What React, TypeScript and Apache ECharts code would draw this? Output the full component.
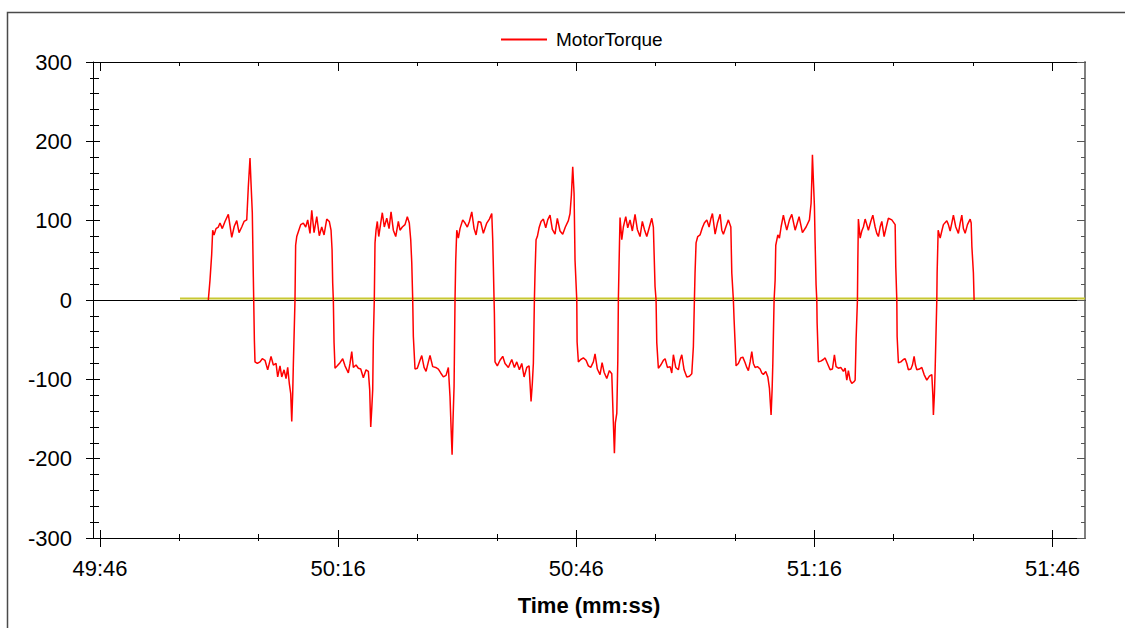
import React, { useEffect, useRef } from "react";
import * as echarts from "echarts";

// Time axis: seconds after 49:46 (2986 s)
const TIME_OFFSET = 2986;
const timeMin = -0.88;
const timeMax = 124.1;
const majorTimeTicks = [0, 30, 60, 90, 120];
const minorTimeTicks = [10, 20, 40, 50, 70, 80, 100, 110];

const torqueMin = -300;
const torqueMax = 300;
const torqueInterval = 100;

// MotorTorque samples [seconds after 49:46, torque]
const cycle01: [number, number][] = [
  [13.65, 0], [13.86, 25], [14.07, 57], [14.2, 88], [14.37, 82], [14.62, 90], [14.91, 92], [15.12, 97],
  [15.41, 90], [15.75, 99], [16.17, 108], [16.6, 79], [16.92, 93], [17.23, 100], [17.52, 85], [17.86, 92],
  [18.15, 99], [18.49, 101], [18.69, 143], [18.9, 179], [19.03, 147], [19.19, 110], [19.32, 29],
  [19.45, -50], [19.53, -78], [19.82, -80], [20.16, -78], [20.45, -74], [20.79, -76], [21.13, -88],
  [21.55, -71], [21.84, -82], [22.18, -80], [22.39, -97], [22.68, -83], [22.9, -97], [23.19, -88],
  [23.44, -99], [23.65, -85], [23.85, -105], [24.03, -118], [24.16, -153], [24.28, -118], [24.36, -82],
  [24.57, 0],
];
const cycle02: [number, number][] = [
  [24.65, 69], [24.79, 80], [24.99, 86], [25.29, 95], [25.62, 97], [25.92, 92], [26.17, 101], [26.46, 84],
  [26.68, 113], [26.97, 85], [27.31, 105], [27.63, 81], [27.94, 92], [28.23, 82], [28.57, 102], [28.89, 99],
  [29.11, 88], [29.24, 63], [29.32, 21], [29.4, 0],
  [29.49, -54], [29.61, -86], [29.9, -83], [30.24, -79], [30.58, -74], [30.87, -83], [31.29, -92],
  [31.5, -80], [31.72, -65], [31.92, -85], [32.26, -82], [32.55, -86], [32.85, -87], [33.18, -98],
  [33.52, -88], [33.81, -90], [33.98, -113], [34.11, -160], [34.24, -137], [34.36, -113], [34.44, -50],
  [34.56, 0],
];
const cycle03: [number, number][] = [
  [34.65, 72], [34.78, 88], [34.94, 99], [35.12, 80], [35.37, 97], [35.57, 110], [35.82, 92], [36.13, 103],
  [36.42, 90], [36.67, 111], [36.96, 88], [37.26, 80], [37.59, 99], [37.8, 88], [38.09, 92], [38.43, 95],
  [38.72, 105], [38.97, 97], [39.15, 76], [39.28, 47], [39.4, 0],
  [39.48, -46], [39.69, -87], [39.98, -86], [40.32, -76], [40.54, -70], [40.83, -85], [41.08, -90],
  [41.37, -78], [41.58, -70], [41.92, -84], [42.3, -85], [42.63, -87], [42.93, -92], [43.26, -97],
  [43.6, -95], [43.89, -85], [44.1, -122], [44.23, -160], [44.36, -195], [44.48, -151], [44.61, -109],
  [44.73, 0],
];
const cycle04: [number, number][] = [
  [44.82, 50], [44.95, 88], [45.15, 78], [45.36, 90], [45.7, 101], [45.99, 97], [46.28, 92], [46.54, 99],
  [46.84, 111], [47.13, 90], [47.38, 82], [47.67, 99], [47.97, 98], [48.3, 84], [48.73, 97], [49.06, 102],
  [49.36, 109], [49.48, 76], [49.56, 42], [49.65, 0],
  [49.69, -17], [49.77, -78], [50.06, -83], [50.4, -76], [50.74, -71], [51.03, -80], [51.45, -85],
  [51.88, -75], [52.21, -85], [52.51, -78], [52.84, -88], [53.14, -80], [53.43, -97], [53.77, -85],
  [54.06, -83], [54.18, -105], [54.31, -128], [54.47, -105], [54.6, -80], [54.73, 0],
];
const cycle05: [number, number][] = [
  [54.81, 34], [54.94, 76], [55.1, 80], [55.32, 91], [55.57, 99], [55.86, 102], [56.16, 91], [56.41, 101],
  [56.7, 107], [56.99, 89], [57.33, 83], [57.62, 103], [57.96, 87], [58.3, 83], [58.63, 92], [59.01, 100],
  [59.22, 109], [59.39, 132], [59.56, 168], [59.73, 134], [59.85, 50], [60.07, 0],
  [60.11, -53], [60.27, -78], [60.57, -75], [60.9, -73], [61.24, -76], [61.53, -83], [61.83, -85],
  [62.16, -78], [62.37, -68], [62.66, -87], [63.0, -94], [63.26, -79], [63.51, -91], [63.85, -99],
  [64.18, -89], [64.48, -93], [64.64, -143], [64.81, -193], [64.93, -155], [65.11, -143], [65.24, -76],
  [65.31, 0],
];
const cycle06: [number, number][] = [
  [65.4, 47], [65.52, 104], [65.74, 76], [65.94, 92], [66.24, 105], [66.49, 91], [66.78, 101], [67.07, 87],
  [67.41, 108], [67.7, 89], [68.04, 80], [68.33, 99], [68.59, 89], [68.89, 80], [69.22, 92], [69.52, 103],
  [69.72, 92], [69.93, 17], [70.06, 0],
  [70.15, -54], [70.35, -86], [70.65, -82], [70.98, -76], [71.2, -74], [71.49, -85], [71.83, -84],
  [72.04, -92], [72.24, -69], [72.54, -85], [72.87, -88], [73.08, -76], [73.3, -69], [73.59, -88],
  [73.93, -97], [74.26, -96], [74.56, -93], [74.76, -59], [74.89, 0],
];
const cycle07: [number, number][] = [
  [74.97, 34], [75.1, 72], [75.31, 80], [75.6, 82], [75.89, 91], [76.14, 97], [76.45, 101], [76.74, 92],
  [76.95, 102], [77.16, 109], [77.5, 83], [77.79, 97], [78.13, 108], [78.34, 88], [78.54, 83], [78.85, 92],
  [79.17, 101], [79.48, 92], [79.6, 34], [79.8, 0],
  [79.89, -25], [80.14, -83], [80.43, -80], [80.73, -73], [80.99, -72], [81.28, -79], [81.49, -85],
  [81.69, -89], [81.91, -78], [82.12, -65], [82.32, -80], [82.54, -85], [82.83, -84], [83.17, -87],
  [83.38, -92], [83.58, -94], [83.88, -90], [84.14, -97], [84.34, -111], [84.55, -145], [84.68, -113],
  [84.77, -80], [84.93, 0],
];
const cycle08: [number, number][] = [
  [85.06, 25], [85.14, 69], [85.4, 82], [85.6, 78], [85.81, 92], [86.1, 107], [86.31, 97], [86.53, 88],
  [86.86, 101], [87.16, 108], [87.58, 88], [88.08, 105], [88.5, 85], [88.96, 92], [89.38, 101], [89.59, 122],
  [89.68, 151], [89.76, 183], [89.88, 151], [90.01, 118], [90.1, 72], [90.22, 19], [90.31, 0],
  [90.35, -29], [90.51, -78], [90.81, -77], [91.14, -75], [91.36, -73], [91.65, -80], [91.99, -88],
  [92.28, -87], [92.53, -69], [92.74, -84], [93.03, -86], [93.33, -85], [93.66, -90], [93.88, -86],
  [94.09, -101], [94.29, -89], [94.51, -101], [94.72, -105], [95.01, -103], [95.14, -101], [95.26, -50],
  [95.43, 0],
];
const cycle09: [number, number][] = [
  [95.48, 50], [95.55, 102], [95.77, 78], [95.98, 87], [96.18, 92], [96.4, 102], [96.61, 95], [96.81, 88],
  [97.11, 99], [97.37, 107], [97.66, 92], [97.87, 84], [98.07, 80], [98.29, 92], [98.5, 99], [98.79, 80],
  [99.04, 91], [99.33, 103], [99.76, 101], [100.18, 95], [100.26, 42], [100.39, 0],
  [100.43, -46], [100.59, -79], [100.9, -78], [101.22, -75], [101.44, -74], [101.65, -80], [101.85, -88],
  [102.16, -87], [102.36, -82], [102.57, -71], [102.74, -82], [102.91, -88], [103.24, -87], [103.54, -85],
  [103.83, -94], [104.17, -101], [104.5, -96], [104.8, -94], [104.93, -120], [105.0, -145], [105.13, -118],
  [105.22, -88], [105.43, 0],
];
const cycle10: [number, number][] = [
  [105.47, 34], [105.6, 88], [105.85, 78], [106.06, 87], [106.26, 95], [106.69, 100], [106.89, 95],
  [107.11, 87], [107.32, 97], [107.52, 107], [107.82, 92], [108.15, 84], [108.37, 97], [108.58, 107],
  [108.78, 90], [109.0, 84], [109.29, 95], [109.63, 102], [109.76, 97], [109.85, 67], [110.04, 34],
  [110.13, 0],
];

// Second (flat) trace, drawn in olive-yellow
const referenceTimes = [10.08, 124.1];
const referenceValues = [1.8, 1.8];

const FONT = "'Liberation Sans', Arial, sans-serif";

function fmtTime(v: number): string {
  const total = Math.round(TIME_OFFSET + v);
  const m = Math.floor(total / 60);
  const s = total % 60;
  return `${m}:${s < 10 ? "0" + s : s}`;
}

export default function App() {
  const ref = useRef<HTMLDivElement>(null);

  useEffect(() => {
    if (!ref.current) return;
    const chart = echarts.init(ref.current, undefined, { renderer: "svg" });

    const torqueData = [
      ...cycle01, ...cycle02, ...cycle03, ...cycle04, ...cycle05,
      ...cycle06, ...cycle07, ...cycle08, ...cycle09, ...cycle10,
    ];
    const referenceData = referenceTimes.map((t, i) => [t, referenceValues[i]]);

    const baseX = {
      type: "value" as const,
      min: timeMin,
      max: timeMax,
      splitLine: { show: false },
      axisLabel: { show: false },
      axisLine: { show: false, onZero: false },
    };
    const baseY = {
      type: "value" as const,
      min: torqueMin,
      max: torqueMax,
      interval: torqueInterval,
      splitLine: { show: false },
      axisLabel: { show: false },
      axisLine: { show: false, onZero: false },
    };

    const option: any = {
      animation: false,
      backgroundColor: "#ffffff",
      textStyle: { fontFamily: FONT },
      graphic: [
        {
          type: "rect",
          shape: { x: 7.5, y: 12.5, width: 1300, height: 800 },
          style: { fill: "none", stroke: "#4a4a4a", lineWidth: 1.5 },
          silent: true,
        },
      ],
      legend: {
        data: ["MotorTorque"],
        left: 496,
        top: 25,
        icon: "rect",
        itemWidth: 46,
        itemHeight: 2,
        textStyle: { fontSize: 19, color: "#000", fontFamily: FONT, padding: [0, 0, 0, 4] },
      },
      grid: { left: 93, right: 40, top: 62, bottom: 90, containLabel: false },
      xAxis: [
        {
          ...baseX,
          position: "bottom",
          axisLine: { show: true, onZero: false, lineStyle: { color: "#000", width: 1 } },
          axisTick: { show: true, customValues: majorTimeTicks, length: 9, lineStyle: { color: "#000" } },
          axisLabel: {
            show: true,
            customValues: majorTimeTicks,
            formatter: (v: number) => fmtTime(v),
            fontSize: 22,
            color: "#000",
            fontFamily: FONT,
            margin: 19,
          },
          name: "Time (mm:ss)",
          nameLocation: "middle",
          nameGap: 56,
          nameTextStyle: { fontSize: 22, fontWeight: "bold", color: "#000", fontFamily: FONT },
        },
        {
          ...baseX,
          position: "bottom",
          axisTick: { show: true, inside: true, customValues: majorTimeTicks, length: 8, lineStyle: { color: "#000" } },
        },
        {
          ...baseX,
          position: "bottom",
          axisTick: { show: true, customValues: minorTimeTicks, length: 3, lineStyle: { color: "#000" } },
        },
        {
          ...baseX,
          position: "bottom",
          axisTick: { show: true, inside: true, customValues: minorTimeTicks, length: 4, lineStyle: { color: "#000" } },
        },
        {
          ...baseX,
          position: "top",
          axisLine: { show: true, onZero: false, lineStyle: { color: "#000", width: 1 } },
          axisTick: { show: true, inside: true, customValues: majorTimeTicks, length: 9, lineStyle: { color: "#000" } },
        },
        {
          ...baseX,
          position: "top",
          axisTick: { show: true, inside: true, customValues: minorTimeTicks, length: 4, lineStyle: { color: "#000" } },
        },
        {
          ...baseX,
          position: "bottom",
          axisLine: { show: true, onZero: true, lineStyle: { color: "#000", width: 1 } },
          axisTick: { show: false },
        },
      ],
      yAxis: [
        {
          ...baseY,
          position: "left",
          axisLine: { show: true, onZero: false, lineStyle: { color: "#000", width: 1 } },
          axisTick: { show: true, length: 7, lineStyle: { color: "#000" } },
          minorTick: { show: true, splitNumber: 5, length: 3, lineStyle: { color: "#000" } },
          axisLabel: { show: true, fontSize: 22, color: "#000", fontFamily: FONT, margin: 21 },
        },
        {
          ...baseY,
          position: "left",
          axisTick: { show: true, inside: true, length: 7, lineStyle: { color: "#000" } },
          minorTick: { show: true, splitNumber: 5, length: 6, lineStyle: { color: "#000" } },
        },
        {
          ...baseY,
          position: "right",
          axisLine: { show: true, onZero: false, lineStyle: { color: "#808080", width: 2 } },
          axisTick: { show: true, inside: true, length: 8, lineStyle: { color: "#555" } },
          minorTick: { show: true, splitNumber: 5, length: 4, lineStyle: { color: "#555" } },
        },
      ],
      series: [
        {
          name: "Reference",
          type: "line",
          xAxisIndex: 0,
          yAxisIndex: 0,
          data: referenceData,
          symbol: "none",
          lineStyle: { color: "#c8c832", width: 2 },
          itemStyle: { color: "#c8c832" },
          silent: true,
        },
        {
          name: "MotorTorque",
          type: "line",
          xAxisIndex: 0,
          yAxisIndex: 0,
          data: torqueData,
          symbol: "none",
          lineStyle: { color: "#ff0000", width: 1.5 },
          itemStyle: { color: "#ff0000" },
        },
      ],
    };

    chart.setOption(option);
    return () => chart.dispose();
  }, []);

  return (
    <div
      ref={ref}
      style={{ position: "fixed", left: 0, top: 0, width: 1125, height: 628, background: "#fff" }}
    />
  );
}
